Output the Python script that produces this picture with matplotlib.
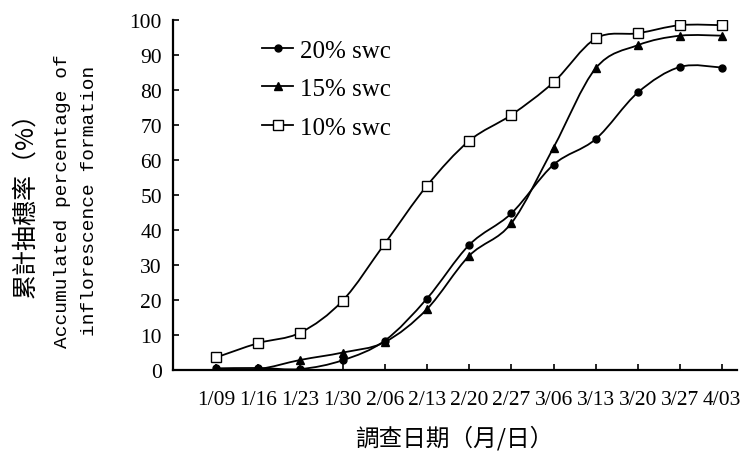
import matplotlib
matplotlib.use("Agg")
import matplotlib.pyplot as plt
from matplotlib.path import Path
from matplotlib.patches import PathPatch
from matplotlib.lines import Line2D
import numpy as np

# survey dates (month/day)
dates = ["1/09", "1/16", "1/23", "1/30", "2/06", "2/13", "2/20",
         "2/27", "3/06", "3/13", "3/20", "3/27", "4/03"]

# accumulated percentage of inflorescence formation (%)
swc20 = [0.5, 0.6, 0.3, 2.8, 8.4, 20.4, 35.7, 44.7, 58.6, 65.9, 79.2, 86.5, 86.3]
swc15 = [0.3, 0.3, 2.9, 5.0, 8.0, 17.4, 32.6, 41.9, 63.5, 86.1, 92.7, 95.4, 95.4]
swc10 = [3.6, 7.7, 10.7, 19.8, 36.1, 52.6, 65.4, 72.8, 82.1, 94.6, 96.1, 98.4, 98.4]

series_labels = ["20% swc", "15% swc", "10% swc"]

serif = "Liberation Serif"
mono = "Liberation Mono"
cjk = ["Noto Sans CJK TC", "DejaVu Sans"]


def smooth_path(xs, ys):
    # cubic Bezier through every point, Catmull-Rom style control points
    pts = np.column_stack([xs, ys]).astype(float)
    n = len(pts)
    verts = [pts[0]]
    codes = [Path.MOVETO]
    for i in range(n - 1):
        p0 = pts[max(i - 1, 0)]
        p1 = pts[i]
        p2 = pts[i + 1]
        p3 = pts[min(i + 2, n - 1)]
        c1 = p1 + (p2 - p0) / 6.0
        c2 = p2 - (p3 - p1) / 6.0
        verts += [c1, c2, p2]
        codes += [Path.CURVE4] * 3
    return Path(verts, codes)


fig = plt.figure(figsize=(7.49, 4.52), dpi=100)
ax = fig.add_axes([0.231, 0.179, 0.753, 0.7755])

x = np.arange(len(dates))
styles = [
    dict(marker="o", markersize=5, markerfacecolor="black"),
    dict(marker="^", markersize=5.5, markerfacecolor="black"),
    dict(marker="s", markersize=6.5, markerfacecolor="white"),
]
handles = []
for vals, st, lab in zip([swc20, swc15, swc10], styles, series_labels):
    ax.add_patch(PathPatch(smooth_path(x, vals), fill=False,
                           edgecolor="black", lw=1.3, zorder=2))
    ax.plot(x, vals, linestyle="none", color="black",
            markeredgecolor="black", markeredgewidth=1.0, zorder=3, **st)
    handles.append(Line2D([], [], color="black", lw=1.3,
                          markeredgecolor="black", markeredgewidth=1.0, **st))

ax.set_xlim(-1.02, 12.35)
ax.set_ylim(0, 100)
ax.set_xticks(x)
ax.set_xticklabels(dates)
ax.set_yticks(np.arange(0, 101, 10))

for s in ["top", "right"]:
    ax.spines[s].set_visible(False)
for s in ["left", "bottom"]:
    ax.spines[s].set_linewidth(1.6)

ax.tick_params(axis="both", direction="in", length=4, width=1.2,
               labelsize=15.5)
ax.tick_params(axis="x", pad=14)
ax.tick_params(axis="y", pad=8)
for lab in ax.get_xticklabels() + ax.get_yticklabels():
    lab.set_fontfamily(serif)

leg = ax.legend(handles, series_labels, loc="upper left",
                bbox_to_anchor=(0.158, 0.944), frameon=False,
                handlelength=1.25, handletextpad=0.25, labelspacing=0.64,
                borderpad=0, borderaxespad=0,
                prop={"family": serif, "size": 18})

# axis titles
fig.text(0.034, 0.56, "累計抽穗率（%）", rotation=90, ha="center",
         va="center", fontsize=18, family=cjk)
fig.text(0.083, 0.555, "Accumulated percentage of", rotation=90,
         ha="center", va="center", fontsize=14, family=mono)
fig.text(0.120, 0.555, "inflorescence formation", rotation=90,
         ha="center", va="center", fontsize=14, family=mono)
fig.text(0.607, 0.03, "調查日期（月/日）", ha="center", va="center",
         fontsize=17, family=cjk)

fig.savefig("out.png", dpi=100)
